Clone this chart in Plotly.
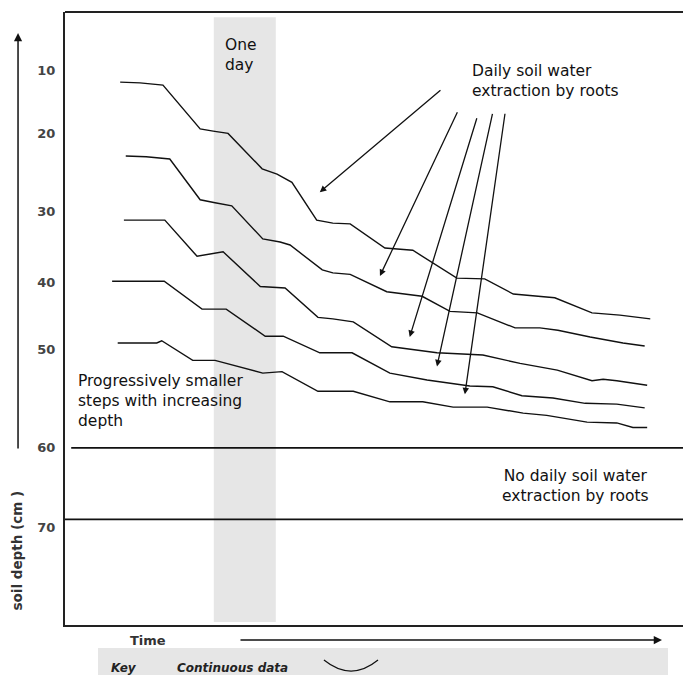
import plotly.graph_objects as go

# ---------------- data (time in days, depth in drawing-cm) ----------------
line1_x = [0.89, 1.21, 1.58, 2.18, 2.39, 2.63, 3.18, 3.42, 3.66, 4.06, 4.32, 4.60, 5.16, 5.61, 6.32, 6.77, 7.23, 7.90, 8.50, 8.95, 9.44]
line1_y = [11.6, 11.7, 12.0, 17.8, 18.1, 18.4, 23.1, 23.8, 24.9, 29.9, 30.3, 30.4, 33.6, 33.9, 37.6, 37.7, 39.7, 40.2, 42.2, 42.5, 43.0]

line2_x = [0.98, 1.31, 1.69, 2.18, 2.42, 2.69, 3.19, 3.47, 3.63, 4.15, 4.32, 4.60, 5.19, 5.76, 6.21, 6.65, 7.26, 7.66, 7.95, 8.47, 9.00, 9.35]
line2_y = [21.4, 21.5, 21.8, 27.2, 27.6, 28.0, 32.4, 32.8, 33.2, 36.5, 36.9, 37.1, 39.4, 40.0, 42.0, 42.2, 44.2, 44.2, 44.5, 45.4, 46.2, 46.6]

line3_x = [0.95, 1.61, 2.13, 2.34, 2.55, 3.15, 3.39, 3.55, 4.08, 4.32, 4.65, 5.27, 6.00, 6.74, 7.34, 7.94, 8.50, 8.68, 8.90, 9.39]
line3_y = [29.9, 29.9, 34.7, 34.4, 34.1, 38.7, 38.8, 38.9, 42.8, 43.0, 43.4, 46.7, 47.5, 47.8, 48.9, 49.8, 51.2, 51.0, 51.2, 51.8]

line4_x = [0.76, 1.60, 2.21, 2.60, 3.23, 3.52, 4.11, 4.63, 5.24, 5.84, 6.53, 6.90, 7.37, 7.87, 8.39, 8.90, 9.35]
line4_y = [38.0, 38.0, 41.7, 41.7, 45.3, 45.3, 47.5, 47.5, 50.2, 51.1, 51.9, 52.0, 53.2, 53.5, 54.2, 54.3, 54.8]

line5_x = [0.85, 1.48, 1.56, 2.06, 2.42, 2.69, 3.19, 3.50, 4.08, 4.65, 5.24, 5.77, 6.26, 6.81, 7.39, 7.77, 8.42, 8.90, 9.16, 9.39]
line5_y = [46.2, 46.2, 45.9, 48.5, 48.5, 49.1, 50.2, 50.0, 52.6, 52.6, 54.0, 54.0, 54.7, 54.7, 55.5, 55.8, 56.7, 56.8, 57.4, 57.4]

lines_x = [line1_x, line2_x, line3_x, line4_x, line5_x]
lines_y = [line1_y, line2_y, line3_y, line4_y, line5_y]

tick_labels = ["10", "20", "30", "40", "50", "60", "70"]
tick_pos = [10.0, 18.4, 28.7, 38.2, 47.0, 60.0, 70.7]

boundary_depths = [60.1, 69.6]
boundary_start = [0.1, 0.0]

one_day = [2.4, 3.4]          # shaded day (time)
band_depth = [3.0, 83.2]

# arrows: tail (text) -> head (line)
arrow_tail_x = [6.08, 6.34, 6.65, 6.90, 7.10]
arrow_tail_y = [12.5, 15.4, 16.2, 15.6, 15.6]
arrow_head_x = [4.11, 5.08, 5.56, 6.00, 6.45]
arrow_head_y = [26.2, 37.3, 45.4, 49.3, 53.0]

x_range = [0, 9.968]
y_range = [83.6, 2.3]

TXT = dict(family="DejaVu Sans", size=15.5, color="#111")
BOLD = dict(family="DejaVu Sans", size=13, color="#333", weight="bold")

fig = go.Figure()

for lx, ly in zip(lines_x, lines_y):
    fig.add_trace(go.Scatter(x=lx, y=ly, mode="lines",
                             line=dict(color="#111", width=1.4),
                             showlegend=False, hoverinfo="skip"))

for d, s in zip(boundary_depths, boundary_start):
    fig.add_trace(go.Scatter(x=[s, x_range[1] + 1], y=[d, d], mode="lines",
                             line=dict(color="#111", width=1.8),
                             showlegend=False, hoverinfo="skip"))

shapes = [
    dict(type="rect", xref="x", yref="y", x0=one_day[0], x1=one_day[1],
         y0=band_depth[0], y1=band_depth[1], fillcolor="#e6e6e6",
         line=dict(width=0), layer="below"),
    # top frame line
    dict(type="line", xref="paper", yref="paper", x0=0, x1=1, y0=1, y1=1,
         line=dict(color="#222", width=2)),
    # key box
    dict(type="rect", xref="paper", yref="paper", x0=0.0534, x1=0.9757,
         y0=-0.0375, y1=-0.095, fillcolor="#e6e6e6", line=dict(width=0)),
    # key glyph
    dict(type="path", xref="paper", yref="paper",
         path="M 0.419 -0.0571 Q 0.463 -0.093 0.5065 -0.0571",
         line=dict(color="#111", width=1.2)),
]

annotations = [
    dict(x=2.55, y=8.0, xref="x", yref="y", text="One<br>day", showarrow=False,
         xanchor="left", yanchor="middle", align="left", font=TXT),
    dict(x=6.53, y=11.5, xref="x", yref="y", text="Daily soil water<br>extraction by roots",
         showarrow=False, xanchor="left", yanchor="middle", align="left", font=TXT),
    dict(x=0.18, y=53.9, xref="x", yref="y",
         text="Progressively smaller<br>steps with increasing<br>depth",
         showarrow=False, xanchor="left", yanchor="middle", align="left", font=TXT),
    dict(x=8.23, y=65.1, xref="x", yref="y", text="No daily soil water<br>extraction by roots",
         showarrow=False, xanchor="center", yanchor="middle", align="center", font=TXT),
    # axis title and time label
    dict(x=-0.0769, y=0.1223, xref="paper", yref="paper", text="soil depth (cm )",
         textangle=-90, showarrow=False, xanchor="center", yanchor="middle",
         font=dict(family="DejaVu Sans", size=13.5, color="#333", weight="bold")),
    dict(x=0.134, y=-0.0245, xref="paper", yref="paper", text="Time",
         showarrow=False, xanchor="center", yanchor="middle", font=BOLD),
    # left depth arrow
    dict(x=-0.076, y=0.9657, xref="paper", yref="paper", text="", showarrow=True,
         ax=0, ay=417, axref="pixel", ayref="pixel", arrowhead=2, arrowsize=1.1,
         arrowwidth=1.5, arrowcolor="#111", standoff=0),
    # time arrow
    dict(x=0.966, y=-0.0245, xref="paper", yref="paper", text="", showarrow=True,
         ax=-423, ay=0, axref="pixel", ayref="pixel", arrowhead=2, arrowsize=1.1,
         arrowwidth=1.5, arrowcolor="#111", standoff=0),
    # key text
    dict(x=0.0712, y=-0.0701, xref="paper", yref="paper", text="<i>Key</i>",
         showarrow=False, xanchor="left", yanchor="middle",
         font=dict(family="DejaVu Sans", size=12, color="#222", weight="bold")),
    dict(x=0.178, y=-0.0701, xref="paper", yref="paper", text="<i>Continuous data</i>",
         showarrow=False, xanchor="left", yanchor="middle",
         font=dict(family="DejaVu Sans", size=12, color="#222", weight="bold")),
]

for tx, ty, hx, hy in zip(arrow_tail_x, arrow_tail_y, arrow_head_x, arrow_head_y):
    annotations.append(dict(x=hx, y=hy, ax=tx, ay=ty, xref="x", yref="y",
                            axref="x", ayref="y", text="", showarrow=True,
                            arrowhead=2, arrowsize=1.0, arrowwidth=1.3,
                            arrowcolor="#111", standoff=0))

fig.update_layout(
    width=683, height=675,
    margin=dict(l=65, r=0, t=12, b=50),
    paper_bgcolor="white", plot_bgcolor="white",
    shapes=shapes, annotations=annotations,
    showlegend=False,
    xaxis=dict(range=x_range, showgrid=False, zeroline=False, showticklabels=False,
               ticks="", showline=True, linecolor="#222", linewidth=2, fixedrange=True),
    yaxis=dict(range=y_range, showgrid=False, zeroline=False,
               tickvals=tick_pos, ticktext=tick_labels, ticks="outside", ticklen=5,
               tickcolor="rgba(0,0,0,0)",
               tickfont=dict(family="DejaVu Sans", size=13, color="#444", weight="bold"),
               showline=True, linecolor="#222", linewidth=2, fixedrange=True),
)

fig.write_html("out.html", config={"displayModeBar": False},
               post_script="document.body.style.margin='0px';")
